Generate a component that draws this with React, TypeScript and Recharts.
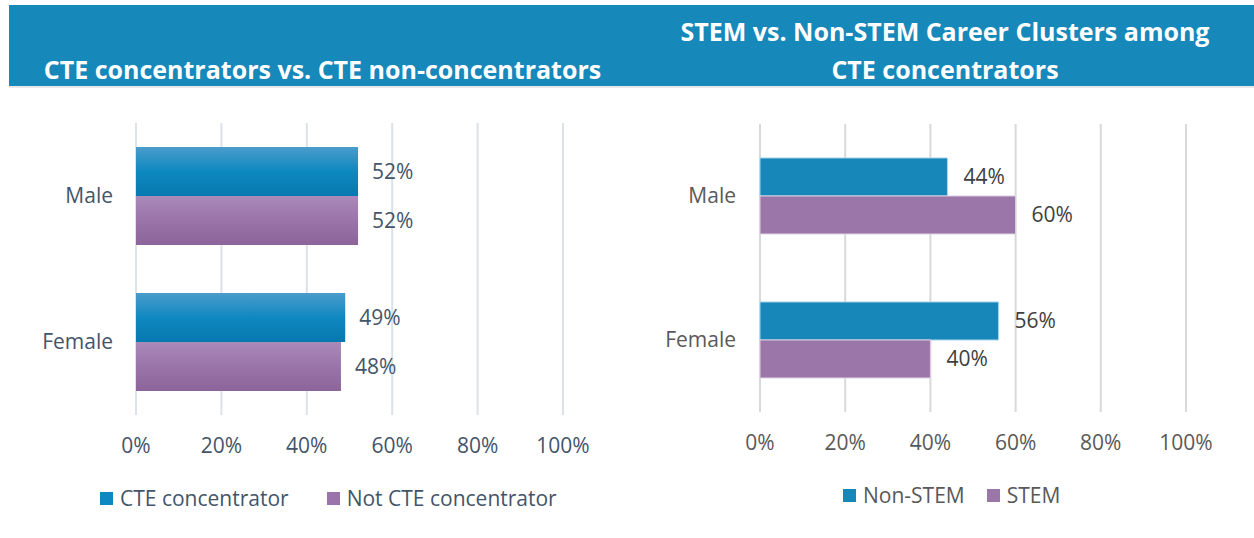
import { BarChart, Bar, XAxis, YAxis, CartesianGrid, LabelList, Legend } from "recharts";

const genders = ["Male", "Female"];
const cteConcentrator = [52, 49];
const notCteConcentrator = [52, 48];
const nonStem = [44, 56];
const stem = [60, 40];
const pctTicks = [0, 20, 40, 60, 80, 100];

const leftData = genders.map((g, i) => ({
  gender: g,
  cte: cteConcentrator[i],
  notCte: notCteConcentrator[i],
}));

const rightData = genders.map((g, i) => ({
  gender: g,
  nonStem: nonStem[i],
  stem: stem[i],
}));

const FONT = "'Open Sans', sans-serif";
const FS = 21;
const pct = (v: number) => `${v}%`;

function makeLegend(items: { label: string; color: string }[], color: string, gap: number) {
  return () => (
    <div style={{ display: "flex", fontFamily: FONT, fontSize: FS, color }}>
      {items.map((p, i) => (
        <div key={i} style={{ display: "flex", alignItems: "center", marginRight: gap }}>
          <span style={{ display: "inline-block", width: 13, height: 13, background: p.color, marginRight: 7 }} />
          <span>{p.label}</span>
        </div>
      ))}
    </div>
  );
}

function LeftChart() {
  const txt = "#44546A";
  return (
    <BarChart
      width={640}
      height={538}
      data={leftData}
      layout="vertical"
      margin={{ top: 123, right: 77, bottom: 83, left: 0 }}
      barCategoryGap="16.4%"
      barGap={0}
    >
      <defs>
        <linearGradient id="gBlue" x1="0" y1="0" x2="0" y2="1">
          <stop offset="0%" stopColor="#4B9CCB" />
          <stop offset="50%" stopColor="#0E88C0" />
          <stop offset="100%" stopColor="#0679AF" />
        </linearGradient>
        <linearGradient id="gPurple" x1="0" y1="0" x2="0" y2="1">
          <stop offset="0%" stopColor="#A98AB8" />
          <stop offset="50%" stopColor="#9A74AA" />
          <stop offset="100%" stopColor="#8C6499" />
        </linearGradient>
      </defs>
      <CartesianGrid horizontal={false} stroke="#DDE2E8" strokeWidth={2} />
      <XAxis
        type="number"
        domain={[0, 100]}
        ticks={pctTicks}
        tickFormatter={pct}
        axisLine={false}
        tickLine={false}
        tickMargin={17}
        height={40}
        tick={{ fill: txt, fontSize: FS, fontFamily: FONT }}
      />
      <YAxis
        type="category"
        dataKey="gender"
        width={136}
        axisLine={false}
        tickLine={false}
        tickMargin={17}
        tick={{ fill: txt, fontSize: FS, fontFamily: FONT }}
      />
      <Legend
        layout="horizontal"
        verticalAlign="middle"
        wrapperStyle={{ top: 484, left: 100, width: 520 }}
        content={makeLegend(
          [
            { label: "CTE concentrator", color: "#0E88C0" },
            { label: "Not CTE concentrator", color: "#9A74AA" },
          ],
          txt,
          38
        )}
      />
      <Bar dataKey="cte" name="CTE concentrator" fill="url(#gBlue)" isAnimationActive={false}>
        <LabelList dataKey="cte" position="right" offset={14} formatter={pct as any} fill={txt} fontSize={FS} fontFamily={FONT} />
      </Bar>
      <Bar dataKey="notCte" name="Not CTE concentrator" fill="url(#gPurple)" isAnimationActive={false}>
        <LabelList dataKey="notCte" position="right" offset={14} formatter={pct as any} fill={txt} fontSize={FS} fontFamily={FONT} />
      </Bar>
    </BarChart>
  );
}

function RightChart() {
  const txt = "#404040";
  return (
    <BarChart
      width={634}
      height={538}
      data={rightData}
      layout="vertical"
      margin={{ top: 124, right: 68, bottom: 86, left: 0 }}
      barCategoryGap="23.6%"
      barGap={0}
    >
      <CartesianGrid horizontal={false} stroke="#D9D9D9" strokeWidth={2} />
      <XAxis
        type="number"
        domain={[0, 100]}
        ticks={pctTicks}
        tickFormatter={pct}
        axisLine={false}
        tickLine={false}
        tickMargin={17}
        height={40}
        tick={{ fill: "#595959", fontSize: FS, fontFamily: FONT }}
      />
      <YAxis
        type="category"
        dataKey="gender"
        width={140}
        axisLine={false}
        tickLine={false}
        tickMargin={18}
        tick={{ fill: "#595959", fontSize: FS, fontFamily: FONT }}
      />
      <Legend
        layout="horizontal"
        verticalAlign="middle"
        wrapperStyle={{ top: 481, left: 223, width: 400 }}
        content={makeLegend(
          [
            { label: "Non-STEM", color: "#1787BA" },
            { label: "STEM", color: "#9B76A8" },
          ],
          "#595959",
          22
        )}
      />
      <Bar dataKey="nonStem" name="Non-STEM" fill="#1787BA" stroke="#A9D4EA" strokeWidth={1} isAnimationActive={false}>
        <LabelList dataKey="nonStem" position="right" offset={16} formatter={pct as any} fill={txt} fontSize={FS} fontFamily={FONT} />
      </Bar>
      <Bar dataKey="stem" name="STEM" fill="#9B76A8" stroke="#DDD0E3" strokeWidth={1} isAnimationActive={false}>
        <LabelList dataKey="stem" position="right" offset={16} formatter={pct as any} fill={txt} fontSize={FS} fontFamily={FONT} />
      </Bar>
    </BarChart>
  );
}

export default function App() {
  const titleStyle: React.CSSProperties = {
    position: "absolute",
    color: "#fff",
    fontFamily: FONT,
    fontWeight: 700,
    fontSize: 25,
    lineHeight: "38px",
    textAlign: "center",
    whiteSpace: "nowrap",
  };
  return (
    <div style={{ position: "absolute", left: 0, top: 0, width: 1254, height: 538, background: "#fff", overflow: "hidden" }}>
      <div
        style={{
          position: "absolute",
          left: 9,
          top: 5,
          width: 1245,
          height: 81,
          background: "#1788BA",
          borderBottom: "2px solid #E8E8E8",
        }}
      />
      <div style={{ ...titleStyle, left: 9, width: 627, top: 50 }}>CTE concentrators vs. CTE non-concentrators</div>
      <div style={{ ...titleStyle, left: 636, width: 618, top: 12 }}>
        STEM vs. Non-STEM Career Clusters among
        <br />
        CTE concentrators
      </div>
      <div style={{ position: "absolute", left: 0, top: 0 }}>
        <LeftChart />
      </div>
      <div style={{ position: "absolute", left: 620, top: 0 }}>
        <RightChart />
      </div>
    </div>
  );
}
